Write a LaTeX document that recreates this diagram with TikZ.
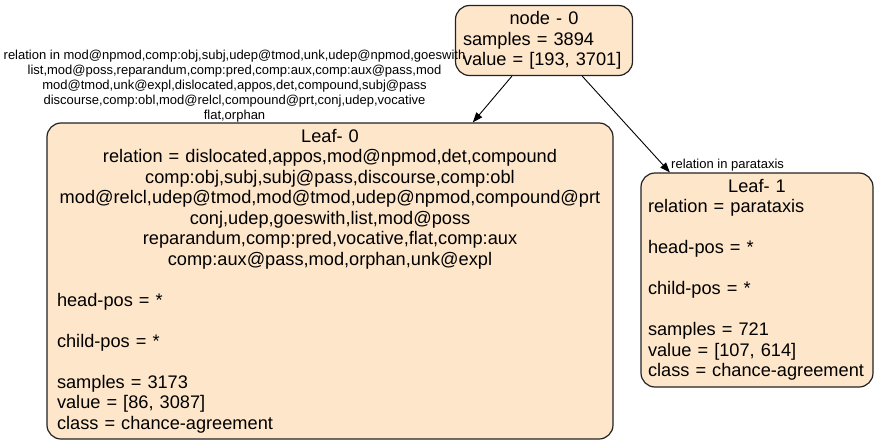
\documentclass[tikz,border=0pt]{standalone}
\usepackage{fontspec}
\setmainfont{Liberation Sans}
\usetikzlibrary{arrows.meta, positioning}
\definecolor{leaffill}{RGB}{254,230,202}
\definecolor{leafline}{RGB}{34,34,34}

\begin{document}
\begin{tikzpicture}[x=1pt, y=-1pt,
        box/.style={draw=leafline, fill=leaffill, line width=1.2pt, rounded corners=14pt,
            font=\fontsize{18.2}{20.5}\selectfont, inner ysep=0pt},
        rel/.style={font=\fontsize{13}{15}\selectfont, inner sep=0pt, align=center},
        edge/.style={-{Triangle[length=10pt, width=7.5pt]}, line width=0.9pt}]
    \useasboundingbox (0,0) rectangle (880,444);

    % tree nodes
    \node [box, text width=162pt, inner xsep=7.5pt, minimum height=70pt] (N0) at (544,40.5)
        {{\centering node - 0\par}samples = 3894\\ value = [193,~3701]};
    \node [box, text width=546pt, inner xsep=10pt, minimum height=316pt] (L0) at (330,281)
        {{\centering Leaf- 0\\
          relation = dislocated,appos,mod@npmod,det,compound\\
          comp:obj,subj,subj@pass,discourse,comp:obl\\
          mod@relcl,udep@tmod,mod@tmod,udep@npmod,compound@prt\\
          conj,udep,goeswith,list,mod@poss\\
          reparandum,comp:pred,vocative,flat,comp:aux\\
          comp:aux@pass,mod,orphan,unk@expl\par}\vspace{\baselineskip}
         head-pos = *\\[\baselineskip]
         child-pos = *\\[\baselineskip]
         samples = 3173\\ value = [86, 3087]\\ class = chance-agreement};
    \node [box, text width=218pt, inner xsep=7pt, minimum height=214pt] (L1) at (757,280)
        {{\centering Leaf- 1\par}relation = parataxis\\[\baselineskip]
         head-pos = *\\[\baselineskip]
         child-pos = *\\[\baselineskip]
         samples = 721\\ value = [107, 614]\\ class = chance-agreement};

    % splits
    \draw [edge] (N0.-132) -- (L0.48);
    \draw [edge] (N0.-43) -- (L1.129);
    \node [rel] (R0) at (234.5,86)
        {relation in mod@npmod,comp:obj,subj,udep@tmod,unk,udep@npmod,goeswith\\
         list,mod@poss,reparandum,comp:pred,comp:aux,comp:aux@pass,mod\\
         mod@tmod,unk@expl,dislocated,appos,det,compound,subj@pass\\
         discourse,comp:obl,mod@relcl,compound@prt,conj,udep,vocative\\
         flat,orphan};
    \node [rel, anchor=west] (R1) at (671,165) {relation in parataxis};
\end{tikzpicture}
\end{document}
